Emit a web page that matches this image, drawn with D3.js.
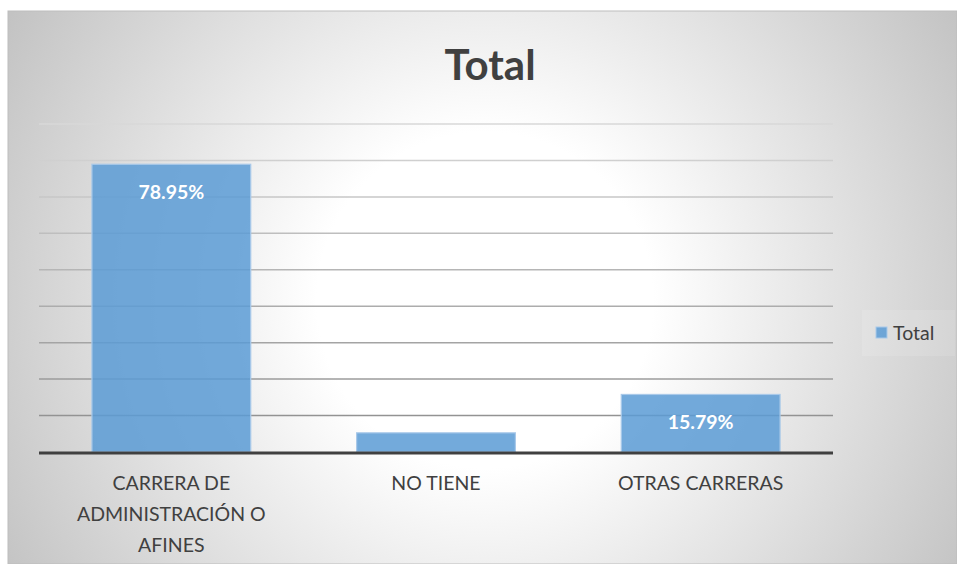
<!DOCTYPE html>
<html>
<head>
<meta charset="utf-8">
<script src="https://cdn.jsdelivr.net/npm/d3@7"></script>
<style>
  html, body { margin: 0; padding: 0; background: #ffffff; }
  svg { display: block; }
</style>
</head>
<body>
<div id="chart"></div>
<script>
// Distribución por formación académica
const categories = ["CARRERA DE ADMINISTRACIÓN O AFINES", "NO TIENE", "OTRAS CARRERAS"];
const values = [0.7895, 0.0526, 0.1579];
const valueLabels = ["78.95%", "5.26%", "15.79%"];
const gridTicks = [0.1, 0.2, 0.3, 0.4, 0.5, 0.6, 0.7, 0.8, 0.9];
const seriesName = "Total";
const chartTitle = "Total";

const W = 957, H = 564;
const frame = { x: 8, y: 11, w: W - 8, h: H - 11 };
const plot = { left: 39, right: 833, top: 124, bottom: 452 };

const svg = d3.select("#chart").append("svg")
  .attr("width", W).attr("height", H);

const defs = svg.append("defs");

const bg = defs.append("radialGradient")
  .attr("id", "bgGrad")
  .attr("gradientUnits", "userSpaceOnUse")
  .attr("cx", 485).attr("cy", 300).attr("r", 560)
  .attr("fx", 485).attr("fy", 300);
bg.append("stop").attr("offset", "0%").attr("stop-color", "#ffffff");
bg.append("stop").attr("offset", "30%").attr("stop-color", "#ffffff");
bg.append("stop").attr("offset", "100%").attr("stop-color", "#c2c2c2");

const gridGrad = defs.append("linearGradient")
  .attr("id", "gridGrad")
  .attr("gradientUnits", "userSpaceOnUse")
  .attr("x1", 0).attr("y1", plot.top).attr("x2", 0).attr("y2", plot.bottom);
gridGrad.append("stop").attr("offset", "0%").attr("stop-color", "#d8d8d8");
gridGrad.append("stop").attr("offset", "100%").attr("stop-color", "#8a8a8a");

// Chart area background
svg.append("rect")
  .attr("x", frame.x).attr("y", frame.y)
  .attr("width", frame.w).attr("height", frame.h)
  .attr("fill", "url(#bgGrad)")
  .attr("stroke", "#bdbdbd").attr("stroke-width", 1);

const x = d3.scaleBand()
  .domain(categories)
  .range([plot.left, plot.right])
  .paddingInner(0.4).paddingOuter(0.2);

const y = d3.scaleLinear()
  .domain([0, 0.9])
  .range([plot.bottom, plot.top]);

// Title
svg.append("text")
  .attr("x", 490).attr("y", 80)
  .attr("text-anchor", "middle")
  .attr("font-family", "Lato, 'Open Sans', sans-serif")
  .attr("font-weight", 700)
  .attr("font-size", 42)
  .attr("fill", "#404040")
  .text(chartTitle);

// Horizontal gridlines
svg.append("g")
  .selectAll("line")
  .data(gridTicks)
  .join("line")
  .attr("x1", plot.left).attr("x2", plot.right)
  .attr("y1", d => y(d)).attr("y2", d => y(d))
  .attr("stroke", "url(#gridGrad)")
  .attr("stroke-width", 1.5);

// Bars
svg.append("g")
  .selectAll("rect")
  .data(values)
  .join("rect")
  .attr("x", (d, i) => x(categories[i]))
  .attr("y", d => y(d))
  .attr("width", x.bandwidth())
  .attr("height", d => y(0) - y(d))
  .attr("fill", "#5b9bd5")
  .attr("fill-opacity", 0.85)
  .attr("stroke", "#a9c9e9")
  .attr("stroke-width", 1.2);

// Category axis line
svg.append("line")
  .attr("x1", plot.left).attr("x2", plot.right)
  .attr("y1", y(0) + 1).attr("y2", y(0) + 1)
  .attr("stroke", "#404040")
  .attr("stroke-width", 3.2);

// Value labels inside the top of each bar
svg.append("g")
  .selectAll("text")
  .data(values)
  .join("text")
  .attr("x", (d, i) => x(categories[i]) + x.bandwidth() / 2)
  .attr("y", d => Math.min(y(d) + 28, y(0) - 28))
  .attr("dy", "0.36em")
  .attr("text-anchor", "middle")
  .attr("font-family", "Lato, 'Open Sans', sans-serif")
  .attr("font-weight", 700)
  .attr("font-size", 19.5)
  .attr("fill", "#ffffff")
  .text((d, i) => valueLabels[i]);

// Category labels, wrapped to the band width
const catFont = "Lato, 'Open Sans', sans-serif";
const catG = svg.append("g");
categories.forEach((c, i) => {
  const t = catG.append("text")
    .attr("text-anchor", "middle")
    .attr("font-family", catFont)
    .attr("font-size", 19.5)
    .attr("fill", "#404040");
  const cx = x(c) + x.bandwidth() / 2;
  const words = c.split(" ");
  const lines = [];
  let line = [];
  const probe = t.append("tspan");
  words.forEach(w => {
    const trial = line.concat([w]).join(" ");
    probe.text(trial);
    if (probe.node().getComputedTextLength() > 230 && line.length) {
      lines.push(line.join(" "));
      line = [w];
    } else {
      line.push(w);
    }
  });
  lines.push(line.join(" "));
  probe.remove();
  lines.forEach((l, k) => {
    t.append("tspan")
      .attr("x", cx)
      .attr("y", 490 + k * 31)
      .text(l);
  });
});

// Legend
const lg = svg.append("g");
lg.append("rect")
  .attr("x", 862).attr("y", 310).attr("width", 93).attr("height", 46)
  .attr("fill", "#ffffff").attr("fill-opacity", 0.12);
lg.append("rect")
  .attr("x", 876).attr("y", 327).attr("width", 11).attr("height", 11)
  .attr("fill", "#5b9bd5").attr("fill-opacity", 0.85)
  .attr("stroke", "#a9c9e9").attr("stroke-width", 1);
lg.append("text")
  .attr("x", 893).attr("y", 333)
  .attr("dy", "0.36em")
  .attr("font-family", catFont)
  .attr("font-size", 19.5)
  .attr("fill", "#404040")
  .text(seriesName);
</script>
</body>
</html>
